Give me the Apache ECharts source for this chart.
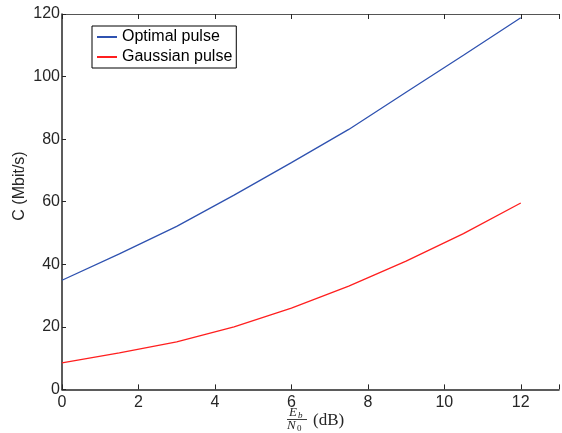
<!DOCTYPE html>
<html>
<head>
<meta charset="utf-8">
<script src="https://cdn.jsdelivr.net/npm/echarts@6/dist/echarts.min.js"></script>
<style>
html,body{margin:0;padding:0;background:#fff;}
#c{width:562px;height:433px;}
</style>
</head>
<body>
<div id="c"></div>
<script>
const ebn0 = [0, 1.5, 3, 4.5, 6, 7.5, 9, 10.5, 12];
const optimalPulse = [34.9, 43.3, 52.1, 62.1, 72.5, 83.1, 95.0, 106.8, 118.8];
const gaussianPulse = [8.5, 11.7, 15.2, 20.0, 26.0, 33.0, 41.0, 49.8, 59.6];
const xTicks = [0, 2, 4, 6, 8, 10, 12];
const yTicks = [0, 20, 40, 60, 80, 100, 120];

const chart = echarts.init(document.getElementById('c'));
const font = 'Liberation Sans, Arial, sans-serif';
const serif = 'Liberation Serif, Times New Roman, serif';
const dark = '#262626';

function pairs(xs, ys){ return xs.map((x,i)=>[x, ys[i]]); }

chart.setOption({
  animation: false,
  backgroundColor: '#fff',
  grid: { left: 62, top: 14, width: 509.9, height: 375.4, containLabel: false },
  legend: {
    left: 92, top: 26, orient: 'vertical',
    padding: [3, 4, 3, 4],
    itemWidth: 20, itemHeight: 14, itemGap: 4,
    borderColor: '#000', borderWidth: 1,
    backgroundColor: '#fff',
    itemStyle: { opacity: 0, borderWidth: 0 },
    textStyle: { fontFamily: font, fontSize: 16, color: '#000', lineHeight: 16 },
    data: ['Optimal pulse', 'Gaussian pulse']
  },
  xAxis: [{
    type: 'value', min: 0, max: 13, interval: 2, position: 'bottom',
    axisLine: { show: true, lineStyle: { color: dark, width: 1.5 } },
    axisTick: { show: true, inside: true, length: 5, lineStyle: { color: dark } },
    axisLabel: { fontFamily: font, fontSize: 16, color: dark, margin: 5,
      formatter: v => xTicks.indexOf(v) >= 0 ? String(v) : '' },
    splitLine: { show: false }
  }, {
    type: 'value', min: 0, max: 13, interval: 2, position: 'top',
    axisLine: { show: true, onZero: false, lineStyle: { color: '#555', width: 1 } },
    axisTick: { show: true, inside: true, length: 5, lineStyle: { color: dark } },
    axisLabel: { show: false },
    splitLine: { show: false }
  }],
  yAxis: [{
    type: 'value', min: 0, max: 120, interval: 20,
    axisLine: { show: true, lineStyle: { color: dark, width: 1.5 } },
    axisTick: { show: true, inside: true, length: 4, lineStyle: { color: dark } },
    axisLabel: { fontFamily: font, fontSize: 16, color: dark, margin: 2,
      formatter: v => yTicks.indexOf(v) >= 0 ? String(v) : '' },
    splitLine: { show: false }
  }],
  series: [{
    name: 'Optimal pulse', type: 'line', symbol: 'none',
    data: pairs(ebn0, optimalPulse),
    lineStyle: { color: '#2f52b0', width: 1.3 },
    itemStyle: { color: '#2f52b0' }
  }, {
    name: 'Gaussian pulse', type: 'line', symbol: 'none',
    data: pairs(ebn0, gaussianPulse),
    lineStyle: { color: '#ff1f1f', width: 1.3 },
    itemStyle: { color: '#ff1f1f' }
  }],
  graphic: [
    { type: 'text', x: 20, y: 186, rotation: Math.PI/2,
      style: { text: 'C (Mbit/s)', fontFamily: font, fontSize: 16, fill: dark,
        align: 'center', verticalAlign: 'middle' } },
    { type: 'text', x: 289, y: 413, style: { text: 'E', fontFamily: serif, fontStyle: 'italic', fontSize: 13, fill: dark, verticalAlign: 'middle' } },
    { type: 'text', x: 298, y: 416, style: { text: 'b', fontFamily: serif, fontStyle: 'italic', fontSize: 9, fill: dark, verticalAlign: 'middle' } },
    { type: 'line', shape: { x1: 287, y1: 419.5, x2: 307, y2: 419.5 }, style: { stroke: dark, lineWidth: 0.9 } },
    { type: 'text', x: 287, y: 426, style: { text: 'N', fontFamily: serif, fontStyle: 'italic', fontSize: 13, fill: dark, verticalAlign: 'middle' } },
    { type: 'text', x: 297, y: 429, style: { text: '0', fontFamily: serif, fontSize: 9, fill: dark, verticalAlign: 'middle' } },
    { type: 'text', x: 313, y: 421, style: { text: '(dB)', fontFamily: serif, fontSize: 17, fill: dark, verticalAlign: 'middle' } }
  ]
});
</script>
</body>
</html>
